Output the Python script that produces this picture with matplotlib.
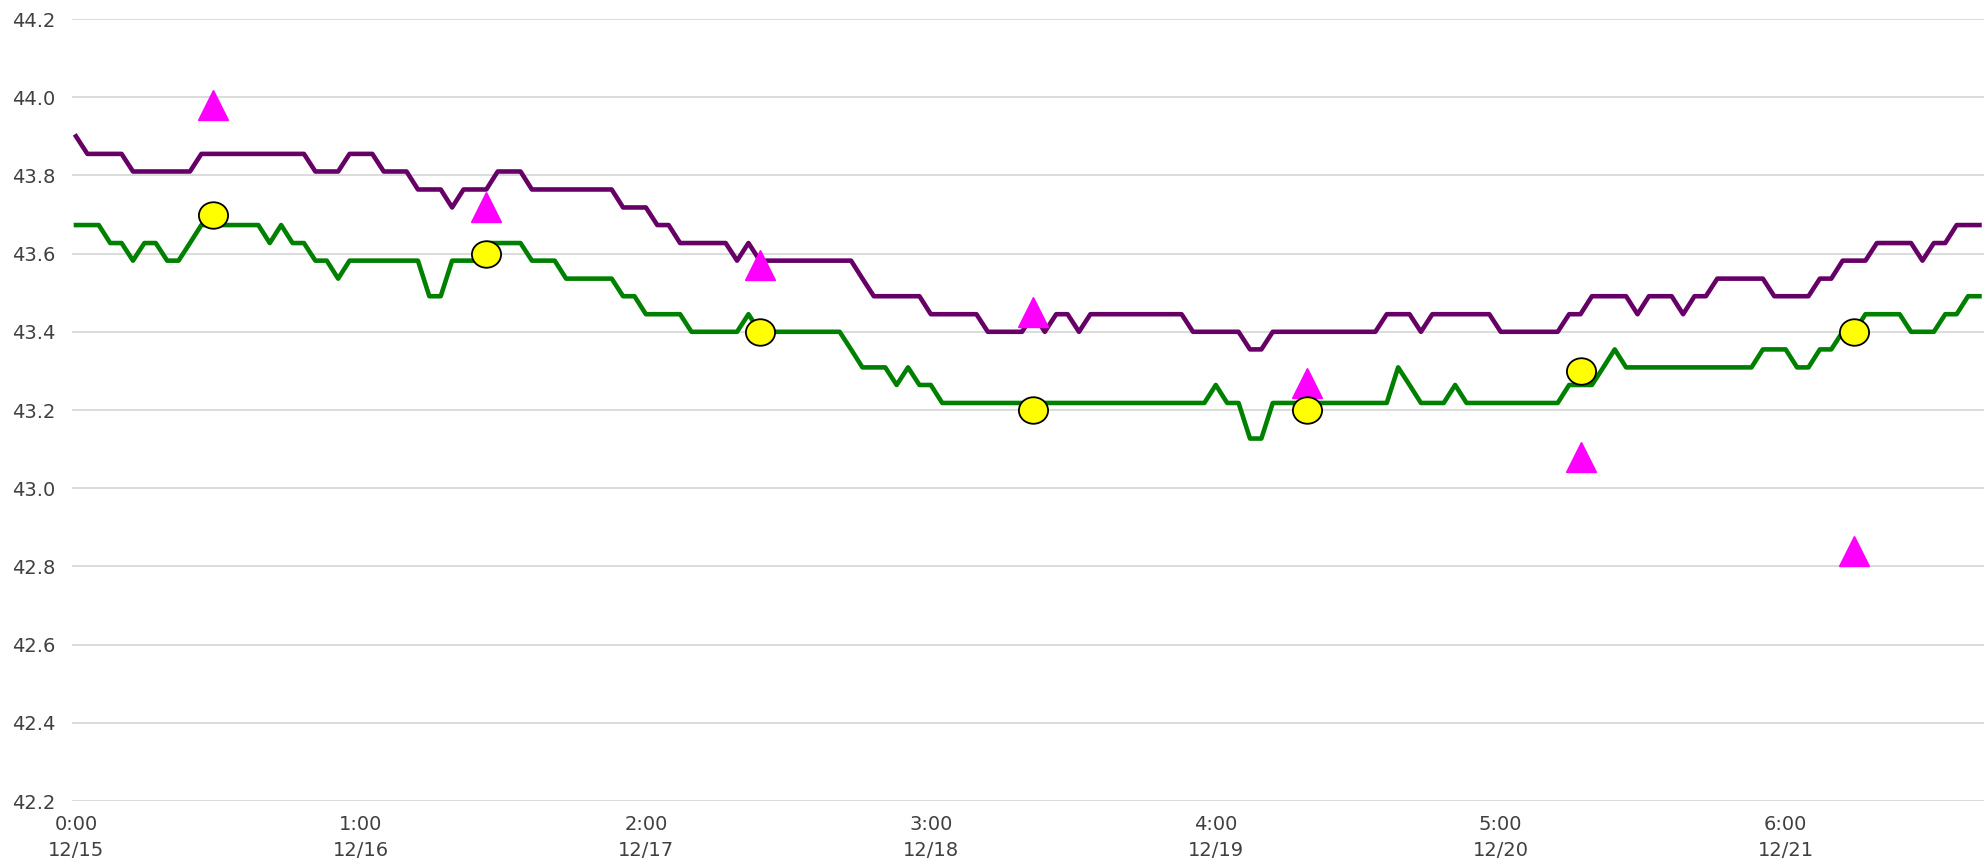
import numpy as np
import matplotlib
matplotlib.use("Agg")
import matplotlib.pyplot as plt
from matplotlib.path import Path

plt.rcParams['font.family'] = ['Liberation Sans Narrow', 'DejaVu Sans']

# hourly readings, 168 points (12/15 0:00 onwards)
purple = ([43.900] + [43.855] * 4 + [43.810] * 6 + [43.855] * 10 + [43.810] * 3
          + [43.855] * 3 + [43.810] * 3 + [43.764] * 3 + [43.718] + [43.764] * 3
          + [43.810] * 3 + [43.764] * 8 + [43.718] * 3 + [43.673] * 2 + [43.627] * 5
          + [43.582] + [43.627] + [43.582] * 9 + [43.536] + [43.491] * 5 + [43.445] * 5
          + [43.400] * 4 + [43.445] + [43.400] + [43.445] * 2 + [43.400] + [43.445] * 9
          + [43.400] * 5 + [43.355] * 2 + [43.400] * 10 + [43.445] * 3 + [43.400]
          + [43.445] * 6 + [43.400] * 6 + [43.445] * 2 + [43.491] * 4 + [43.445]
          + [43.491] * 3 + [43.445] + [43.491] * 2 + [43.536] * 5 + [43.491] * 4
          + [43.536] * 2 + [43.582] * 3 + [43.627] * 4 + [43.582] + [43.627] * 2
          + [43.673] * 3)

green = ([43.673] * 3 + [43.627] * 2 + [43.582] + [43.627] * 2 + [43.582] * 2 + [43.627]
         + [43.673] * 6 + [43.627] + [43.673] + [43.627] * 2 + [43.582] * 2 + [43.536]
         + [43.582] * 7 + [43.491] * 2 + [43.582] * 3 + [43.627] * 4 + [43.582] * 3
         + [43.536] * 5 + [43.491] * 2 + [43.445] * 4 + [43.400] * 5 + [43.445]
         + [43.400] * 8 + [43.355] + [43.309] * 3 + [43.264] + [43.309] + [43.264] * 2
         + [43.218] * 24 + [43.264] + [43.218] * 2 + [43.127] * 2 + [43.218] * 11
         + [43.309] + [43.264] + [43.218] * 3 + [43.264] + [43.218] * 9 + [43.264] * 3
         + [43.309] + [43.355] + [43.309] * 12 + [43.355] * 3 + [43.309] * 2
         + [43.355] * 2 + [43.400] * 2 + [43.445] * 4 + [43.400] * 3 + [43.445] * 2
         + [43.491] * 2)

hours = np.arange(len(purple))

# daily noon samples
mark_hours = [12, 36, 60, 84, 108, 132, 156]
triangles = [43.98, 43.72, 43.57, 43.45, 43.27, 43.08, 42.84]
circles = [43.70, 43.60, 43.40, 43.20, 43.20, 43.30, 43.40]

tick_pos = [0, 25, 50, 75, 100, 125, 150]
tick_labels = ['0:00\n12/15', '1:00\n12/16', '2:00\n12/17', '3:00\n12/18',
               '4:00\n12/19', '5:00\n12/20', '6:00\n12/21']

# slightly wide ellipse marker, like the reference dots
circ = Path.unit_circle()
ellipse = Path(circ.vertices * [1.1, 1.0], circ.codes)

fig = plt.figure(figsize=(19.86, 8.66), dpi=100)
ax = fig.add_axes([72 / 1986, 1 - 801 / 866, (1984 - 72) / 1986, (801 - 19) / 866])

ax.plot(hours, purple, color='#660066', lw=3.3, solid_joinstyle='round', zorder=3)
ax.plot(hours, green, color='#008000', lw=3.3, solid_joinstyle='round', zorder=3)
ax.plot(mark_hours, triangles, ls='none', marker='^', ms=22, color='#ff00ff', zorder=4)
ax.plot(mark_hours, circles, ls='none', marker=ellipse, ms=21, mfc='#ffff00',
        mec='black', mew=1.3, zorder=5)

ax.set_xlim(-0.35, 167.4)
ax.set_ylim(42.2, 44.2)
ax.set_yticks(np.arange(42.2, 44.21, 0.2))
ax.set_yticklabels(['%.1f' % v for v in np.arange(42.2, 44.21, 0.2)])
ax.set_xticks(tick_pos)
ax.set_xticklabels(tick_labels, linespacing=1.45)

ax.grid(axis='y', color='#d9d9d9', lw=1.3)
ax.set_axisbelow(True)
for s in ax.spines.values():
    s.set_visible(False)
ax.tick_params(axis='both', length=0, labelsize=14, colors='#404040')
ax.tick_params(axis='y', pad=12)
ax.tick_params(axis='x', pad=10)

fig.savefig('out.png', dpi=100)
